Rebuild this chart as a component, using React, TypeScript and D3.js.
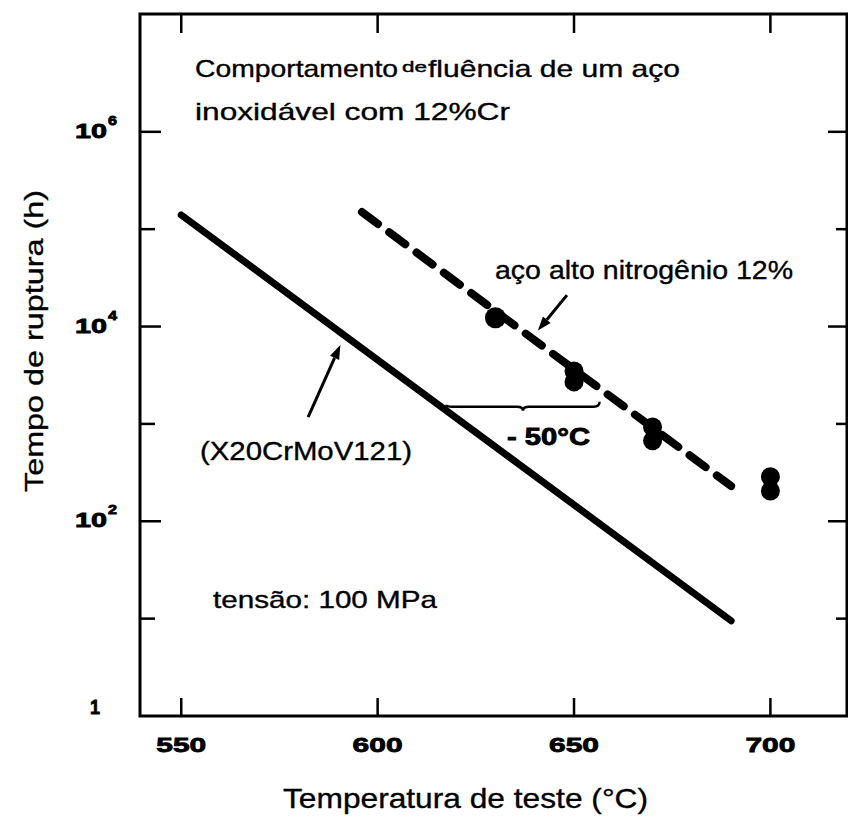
import React from "react";
import * as d3 from "d3";

// Creep rupture data, stress 100 MPa
const tempTicks = [550, 600, 650, 700];
const hourTickExps = [0, 1, 2, 3, 4, 5, 6];
const hourTickLabels: Record<number, string> = { 0: "1", 2: "2", 4: "4", 6: "6" };

// X20CrMoV121 reference steel (solid line)
const baseTemps = [550, 690];
const baseHours = [1.4e5, 9.5];

// high-nitrogen 12% Cr steel (dashed line)
const nitroTemps = [596, 690];
const nitroHours = [1.5e5, 230];

// measured rupture times for the high-nitrogen steel
const pointTemps = [630, 650, 650, 670, 670, 700, 700];
const pointHours = [12300, 3500, 2700, 930, 670, 286, 205];

// -50 °C brace between the two curves
const braceTemps = [617.5, 656.5];
const braceHours = 1500;

// leader arrows [tail, head] as [temp, hours]
const nitroArrow: [number, number][] = [[648.2, 21000], [640.8, 9100]];
const baseArrow: [number, number][] = [[582.3, 1175], [590.5, 6450]];

const W = 848;
const H = 828;
const FONT = "'Liberation Sans', Arial, Helvetica, sans-serif";

export default function App() {
  const x = d3.scaleLinear().domain([539.5, 719.5]).range([140, 847]);
  const y = d3.scaleLog().domain([1, Math.pow(10, 7.21)]).range([716, 14]);

  const line = d3
    .line<[number, number]>()
    .x((d) => x(d[0]))
    .y((d) => y(d[1]));

  const basePts = baseTemps.map((t, i) => [t, baseHours[i]] as [number, number]);
  const nitroPts = nitroTemps.map((t, i) => [t, nitroHours[i]] as [number, number]);

  const left = x.range()[0];
  const right = x.range()[1];
  const top = y.range()[1];
  const bottom = y.range()[0];

  // brace path
  const bx0 = x(braceTemps[0]);
  const bx1 = x(braceTemps[1]);
  const bm = (bx0 + bx1) / 2;
  const by = y(braceHours);
  const bracePath = `M${bx0},${by - 2} Q${bx0},${by} ${bx0 + 6},${by} L${bm - 6},${by} Q${bm},${by} ${bm},${by + 4} Q${bm},${by} ${bm + 6},${by} L${bx1 - 6},${by} Q${bx1},${by} ${bx1},${by - 5}`;

  const arrow = (pts: [number, number][], key: string) => {
    const [t0, h0] = pts[0];
    const [t1, h1] = pts[1];
    const x0 = x(t0), y0 = y(h0), x1 = x(t1), y1 = y(h1);
    const ang = Math.atan2(y1 - y0, x1 - x0);
    const len = 14, half = 5;
    const bxp = x1 - len * Math.cos(ang);
    const byp = y1 - len * Math.sin(ang);
    const px = -Math.sin(ang) * half;
    const py = Math.cos(ang) * half;
    return (
      <g key={key}>
        <line x1={x0} y1={y0} x2={bxp} y2={byp} stroke="#000" strokeWidth={3} />
        <path d={`M${x1},${y1} L${bxp + px},${byp + py} L${bxp - px},${byp - py} Z`} fill="#000" />
      </g>
    );
  };

  const textStroke = { stroke: "#000", strokeWidth: 0.35 };
  const boldStroke = { stroke: "#000", strokeWidth: 0.8 };

  return (
    <svg
      width={W}
      height={H}
      style={{ position: "absolute", left: 0, top: 0, background: "#fff" }}
      fontFamily={FONT}
    >
      <rect x={0} y={0} width={W} height={H} fill="#fff" />

      {/* frame */}
      <path
        d={`M${left},${top} L${right},${top} L${right},${bottom} L${left},${bottom} Z`}
        fill="none"
        stroke="#000"
        strokeWidth={3}
      />

      {/* x ticks bottom and top */}
      {tempTicks.map((t) => (
        <g key={`xt${t}`}>
          <line x1={x(t)} x2={x(t)} y1={bottom} y2={bottom - 18} stroke="#000" strokeWidth={2.5} />
          <line x1={x(t)} x2={x(t)} y1={top} y2={top + 19} stroke="#000" strokeWidth={2.5} />
          <text
            x={x(t)}
            y={752}
            textAnchor="middle"
            fontWeight="bold"
            fontSize={21}
            textLength={50}
            lengthAdjust="spacingAndGlyphs"
            {...boldStroke}
          >
            {t}
          </text>
        </g>
      ))}

      {/* y ticks left and right */}
      {hourTickExps.map((e) => {
        const yy = y(Math.pow(10, e));
        const major = e % 2 === 0;
        return (
          <g key={`yt${e}`}>
            {e > 0 && (
              <>
                <line x1={left} x2={left + (major ? 21 : 15)} y1={yy} y2={yy} stroke="#000" strokeWidth={2.5} />
                <line x1={right} x2={right - (major ? 19 : 11)} y1={yy} y2={yy} stroke="#000" strokeWidth={2.5} />
              </>
            )}
          </g>
        );
      })}
      {hourTickExps
        .filter((e) => hourTickLabels[e] !== undefined)
        .map((e) => {
          const yy = y(Math.pow(10, e));
          if (e === 0) {
            return (
              <text key={`yl${e}`} x={95} y={yy - 2} textAnchor="middle" fontWeight="bold" fontSize={20} textLength={10} lengthAdjust="spacingAndGlyphs" {...boldStroke}>
                {hourTickLabels[e]}
              </text>
            );
          }
          return (
            <g key={`yl${e}`}>
              <text x={75} y={yy + 6} fontWeight="bold" fontSize={20} textLength={32} lengthAdjust="spacingAndGlyphs" {...boldStroke}>
                10
              </text>
              <text x={108} y={yy - 7} fontWeight="bold" fontSize={13} textLength={9} lengthAdjust="spacingAndGlyphs" {...boldStroke}>
                {hourTickLabels[e]}
              </text>
            </g>
          );
        })}

      {/* axis titles */}
      <text x={283} y={808} fontSize={28} textLength={365} lengthAdjust="spacingAndGlyphs" {...textStroke}>
        Temperatura de teste (°C)
      </text>
      <text
        transform={`translate(43,341) rotate(-90)`}
        textAnchor="middle"
        fontSize={26}
        textLength={302}
        lengthAdjust="spacingAndGlyphs"
        {...textStroke}
      >
        Tempo de ruptura (h)
      </text>

      {/* curves */}
      <path d={line(basePts) || ""} fill="none" stroke="#000" strokeWidth={7} strokeLinecap="round" />
      <path
        d={line(nitroPts) || ""}
        fill="none"
        stroke="#000"
        strokeWidth={8}
        strokeLinecap="round"
        strokeDasharray="20 14"
      />

      {/* data points */}
      {pointTemps.map((t, i) => (
        <circle key={`p${i}`} cx={x(t)} cy={y(pointHours[i])} r={i === 0 ? 10.5 : 9.5} fill="#000" />
      ))}

      {/* brace and shift label */}
      <path d={bracePath} fill="none" stroke="#000" strokeWidth={2.5} />
      <text x={507} y={445} fontWeight="bold" fontSize={23} textLength={83} lengthAdjust="spacingAndGlyphs" {...boldStroke}>
        - 50°C
      </text>

      {arrow(nitroArrow, "a1")}
      {arrow(baseArrow, "a2")}

      {/* annotations */}
      <g {...textStroke}>
        <text x={195} y={77} fontSize={24} textLength={203} lengthAdjust="spacingAndGlyphs">
          Comportamento
        </text>
        <text x={402} y={72} fontSize={14} textLength={25} lengthAdjust="spacingAndGlyphs">
          de
        </text>
        <text x={428} y={77} fontSize={24} textLength={252} lengthAdjust="spacingAndGlyphs">
          fluência de um aço
        </text>
        <text x={195} y={120} fontSize={24} textLength={315} lengthAdjust="spacingAndGlyphs">
          inoxidável com 12%Cr
        </text>
        <text x={495} y={279} fontSize={25} textLength={298} lengthAdjust="spacingAndGlyphs">
          aço alto nitrogênio 12%
        </text>
        <text x={200} y={460} fontSize={25} textLength={212} lengthAdjust="spacingAndGlyphs">
          (X20CrMoV121)
        </text>
        <text x={213} y={608} fontSize={24} textLength={224} lengthAdjust="spacingAndGlyphs">
          tensão: 100 MPa
        </text>
      </g>
    </svg>
  );
}
